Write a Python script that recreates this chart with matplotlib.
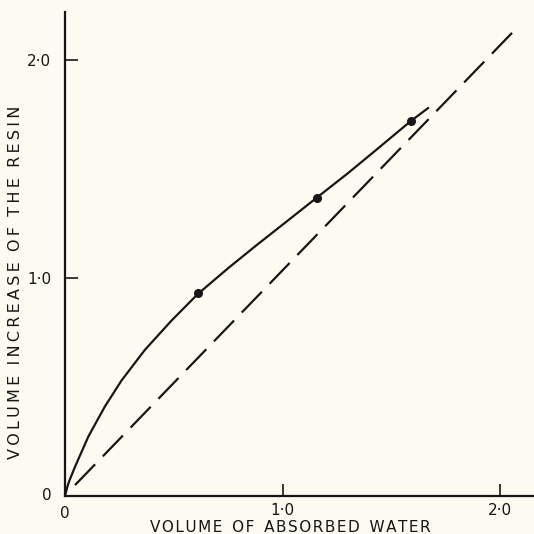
import matplotlib
matplotlib.use("Agg")
import matplotlib.pyplot as plt

# Data
curve_x = [0.0, 0.01, 0.02, 0.046, 0.107, 0.183, 0.26, 0.367, 0.49, 0.61, 0.75, 0.88, 1.02, 1.157, 1.30, 1.43, 1.59, 1.67]
curve_y = [0.0, 0.04, 0.07, 0.134, 0.272, 0.41, 0.53, 0.67, 0.805, 0.926, 1.045, 1.15, 1.26, 1.368, 1.48, 1.587, 1.72, 1.78]
points_x = [0.61, 1.157, 1.59]
points_y = [0.93, 1.368, 1.72]
dash_x = [0.046, 2.08]
dash_y = [0.05, 2.15]
xticks = [1.0, 2.0]
yticks = [1.0, 2.0]
xticklabels = ["1·0", "2·0"]
yticklabels = ["1·0", "2·0"]
xlabel = "VOLUME OF ABSORBED WATER"
ylabel = "VOLUME INCREASE OF THE RESIN"


def spaced(s, letter_gap, word_gap):
    # wide letter spacing as in the printed figure
    words = s.split(" ")
    return word_gap.join(letter_gap.join(w) for w in words)


bg = "#fcfaf1"
ink = "#161616"
plt.rcParams['font.family'] = ['DejaVu Sans']

fig = plt.figure(figsize=(5.34, 5.34), dpi=100, facecolor=bg)
ax = fig.add_axes([65/534, 38/534, 469/534, 484/534])
ax.set_facecolor(bg)
ax.set_xlim(0, 469/217.5)
ax.set_ylim(0, 484/218)

ax.plot(curve_x, curve_y, color=ink, lw=1.6, solid_capstyle='round', solid_joinstyle='round')
ax.plot(points_x, points_y, 'o', color=ink, ms=5.5)
ax.plot(dash_x, dash_y, color=ink, lw=1.6, dashes=(13, 5))

for s in ['top', 'right']:
    ax.spines[s].set_visible(False)
for s in ['left', 'bottom']:
    ax.spines[s].set_linewidth(1.6)
    ax.spines[s].set_color(ink)

ax.set_xticks(xticks)
ax.set_xticklabels(xticklabels)
ax.set_yticks(yticks)
ax.set_yticklabels(yticklabels)
ax.tick_params(direction='in', length=9, width=1.2, colors=ink, labelsize=11)
ax.tick_params(axis='y', pad=10)
ax.tick_params(axis='x', pad=5)

# origin labels
ax.text(-0.06, 0.0, "0", ha='right', va='center', fontsize=11, color=ink, clip_on=False)
ax.text(0.0, -0.045, "0", ha='center', va='top', fontsize=11, color=ink, clip_on=False)

ax.set_xlabel(spaced(xlabel, "\u200a", "  "), fontsize=11, color=ink, labelpad=0)
ax.xaxis.set_label_coords((290-65)/469, -24/484)
ax.set_ylabel(spaced(ylabel, "\u2009", "  "), fontsize=11.5, color=ink)
ax.yaxis.set_label_coords(-42/469, (496-282)/484)

fig.savefig("out.png", dpi=100, facecolor=bg)
